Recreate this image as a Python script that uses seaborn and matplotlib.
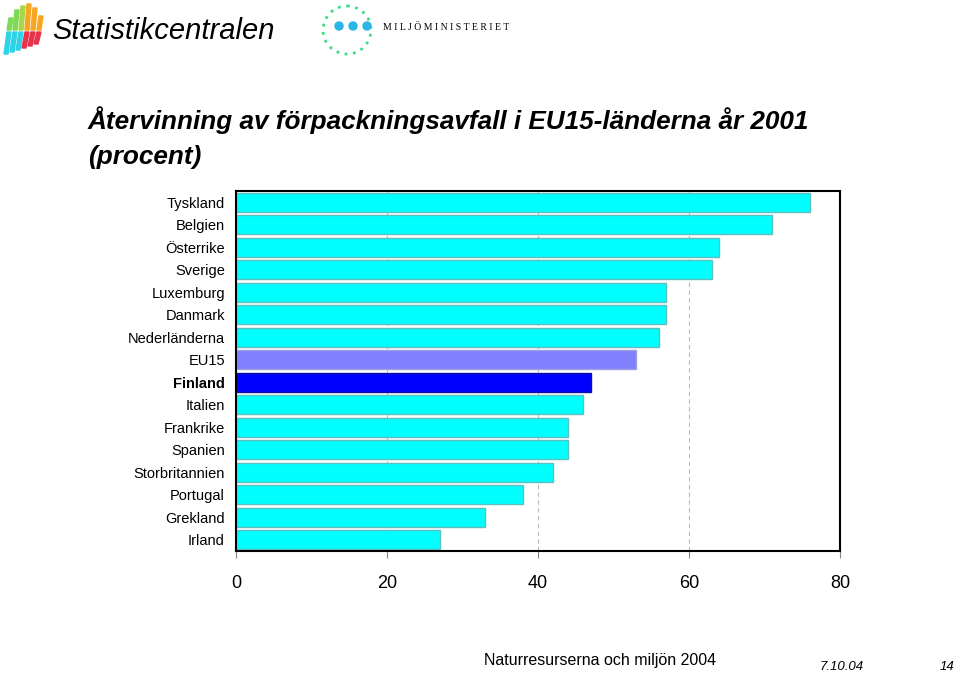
import matplotlib
matplotlib.use("Agg")
import matplotlib.pyplot as plt
import seaborn as sns
import pandas as pd
from matplotlib.patches import Circle, Polygon

countries = ["Tyskland", "Belgien", "Österrike", "Sverige", "Luxemburg", "Danmark",
             "Nederländerna", "EU15", "Finland", "Italien", "Frankrike", "Spanien",
             "Storbritannien", "Portugal", "Grekland", "Irland"]
values = [76, 71, 64, 63, 57, 57, 56, 53, 47, 46, 44, 44, 42, 38, 33, 27]
x_ticks = [0, 20, 40, 60, 80]

colors = []
for c in countries:
    if c == "EU15":
        colors.append("#8080FF")
    elif c == "Finland":
        colors.append("#0000FF")
    else:
        colors.append("#00FFFF")

sns.set_style("white")
plt.rcParams["font.family"] = ["Liberation Sans Narrow", "Liberation Sans", "DejaVu Sans"]
plt.rcParams["text.color"] = "black"
plt.rcParams["xtick.color"] = "black"
plt.rcParams["ytick.color"] = "black"

df = pd.DataFrame({"land": countries, "procent": values})

fig = plt.figure(figsize=(9.59, 6.73), dpi=100)
ax = fig.add_axes([0.2461, 0.1813, 0.6298, 0.5349])

sns.barplot(data=df, y="land", x="procent", hue="land", palette=colors,
            order=countries, hue_order=countries, legend=False, ax=ax,
            width=0.84, edgecolor="#5FBFBF", linewidth=1.0, saturation=1)
for patch, c in zip(ax.patches, countries):
    if c == "Finland":
        patch.set_edgecolor("#1010A0")
    elif c == "EU15":
        patch.set_edgecolor("#A0A0E0")

ax.set_xlim(0, 80)
ax.set_ylim(len(countries) - 0.5, -0.5)
ax.set_xticks(x_ticks)
ax.set_xticklabels([str(t) for t in x_ticks], fontsize=13)
ax.set_xlabel("")
ax.set_ylabel("")
for t in [20, 40, 60]:
    ax.axvline(t, color="#BBBBBB", linestyle=(0, (4, 3)), linewidth=0.8, zorder=0)

ax.tick_params(axis="x", bottom=True, direction="out", length=5, width=0.8,
               color="#888888", labelcolor="black", pad=12)
ax.tick_params(axis="y", left=False, length=0, pad=8, labelcolor="black")
for lbl in ax.get_yticklabels():
    lbl.set_fontsize(10.5)
    if lbl.get_text() == "Finland":
        lbl.set_fontweight("bold")

for s in ax.spines.values():
    s.set_visible(True)
    s.set_color("black")
    s.set_linewidth(1.5)

# Title
fig.text(88 / 959, 1 - 120 / 673, "Återvinning av förpackningsavfall i EU15-länderna år 2001",
         fontsize=18.8, fontweight="bold", fontstyle="italic", va="center", ha="left")
fig.text(88 / 959, 1 - 157 / 673, "(procent)",
         fontsize=18.8, fontweight="bold", fontstyle="italic", va="center", ha="left")

# Header logos
la = fig.add_axes([0, 1 - 62 / 673, 1, 62 / 673])
la.set_xlim(0, 959)
la.set_ylim(62, 0)
la.axis("off")
top_cols = ["#7ED957", "#7ED957", "#A8D84A", "#F5A623", "#F5A623", "#F5A623"]
bot_cols = ["#2FD3E8", "#2FD3E8", "#2FD3E8", "#E8334A", "#E8334A", "#E8334A"]
tops = [18, 10, 6, 4, 8, 16]
for i in range(6):
    x0 = 6 + i * 6
    la.add_patch(Polygon([(x0 + 3, tops[i]), (x0 + 7, tops[i]), (x0 + 5, 30), (x0 + 1, 30)],
                         color=top_cols[i]))
    la.add_patch(Polygon([(x0 + 1, 32), (x0 + 5, 32), (x0 + 2, 54 - i * 2), (x0 - 2, 54 - i * 2)],
                         color=bot_cols[i]))
la.text(52, 31, "Statistikcentralen", fontsize=21, fontstyle="italic",
        va="center", ha="left")
la.add_patch(Circle((347, 30), 24, fill=False, edgecolor="#3DDC84", linestyle=(0, (1, 2)), linewidth=2))
for cx in [339, 353, 367]:
    la.add_patch(Circle((cx, 26), 4, color="#2BB5E8"))
la.text(383, 27, "M I L J Ö M I N I S T E R I E T", fontsize=7,
        family=["Liberation Serif", "DejaVu Serif"], va="center", ha="left")

# Footer
fig.text(484 / 959, 1 - 660 / 673, "Naturresurserna och miljön 2004", fontsize=11.5,
         va="center", ha="left")
fig.text(820 / 959, 1 - 667 / 673, "7.10.04", fontsize=9.5, fontstyle="italic",
         va="center", ha="left")
fig.text(940 / 959, 1 - 667 / 673, "14", fontsize=9.5, fontstyle="italic",
         va="center", ha="left")

fig.savefig("out.png", dpi=100)
